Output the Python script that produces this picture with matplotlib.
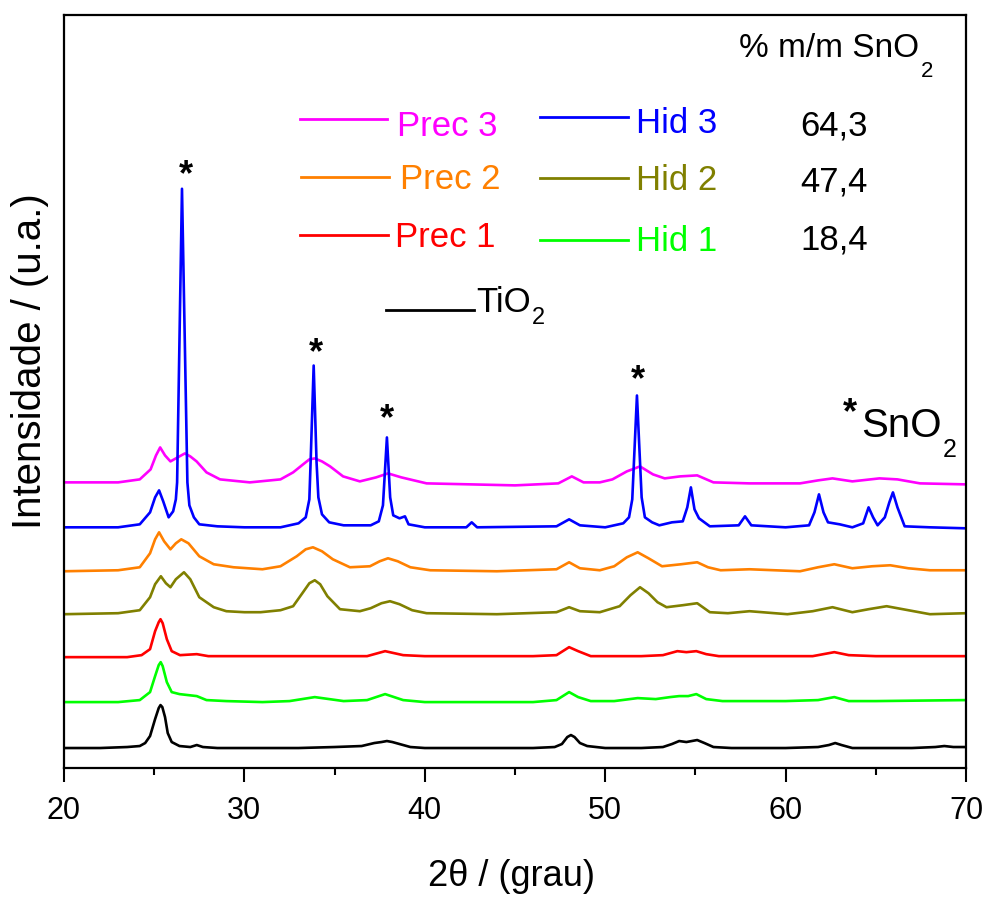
import matplotlib
matplotlib.use("Agg")
import matplotlib.pyplot as plt
from matplotlib.lines import Line2D

plt.rcParams['font.family'] = ['Liberation Sans', 'DejaVu Sans']

# ---------------- data (2theta in degrees, intensity in a.u., stacked) -------------
tio2_x = [20, 22, 23.5, 24.2, 24.5, 24.77, 25.05, 25.25, 25.35, 25.45, 25.6, 25.75, 25.97, 26.4, 27.0,
          27.36, 27.7, 28.5, 30, 33, 35, 36.5, 37.2, 37.6, 37.9, 38.2, 38.6, 39.2, 40, 43, 46, 47.2,
          47.6, 47.9, 48.1, 48.3, 48.6, 49.0, 50, 52, 53.2, 53.7, 54.1, 54.5, 54.8, 55.1, 55.5, 56.0,
          57, 60, 61.8, 62.4, 62.75, 63.1, 63.7, 65, 67, 68.3, 68.8, 69.3, 70]
tio2_y = [19, 19, 20, 21, 24, 31, 48, 59, 62, 60, 50, 34, 25, 21, 20,
          22, 20, 19, 19, 19, 20, 21, 24, 25, 26, 25, 23, 20, 19, 19, 19, 20,
          23, 30, 32, 30, 24, 21, 19, 19, 20, 23, 26, 25, 26, 27, 24, 20,
          19, 19, 20, 22, 24, 22, 19, 19, 19, 20, 21, 20, 20]

hid1_x = [20, 23, 24.2, 24.77, 25.05, 25.25, 25.36, 25.47, 25.7, 25.97, 26.4, 27.36, 27.9, 29, 31,
          32.5, 33.9, 35.5, 36.8, 37.8, 38.8, 40, 46, 47.3, 48.0, 48.5, 49.2, 50.5, 51.8, 52.8,
          53.6, 54.1, 54.6, 55.05, 55.6, 56.5, 60, 61.8, 62.7, 63.5, 65, 70]
hid1_y = [65, 65, 67, 75, 91, 102, 105, 101, 85, 75, 73, 71, 67, 66, 65,
          66, 70, 66, 67, 73, 67, 65, 65, 67, 75, 70, 66, 66, 69, 68,
          70, 71, 71, 73, 68, 66, 66, 67, 70, 66, 66, 67]

prec1_x = [20, 23.5, 24.3, 24.77, 25.05, 25.25, 25.35, 25.47, 25.7, 25.97, 26.43, 27.36, 28, 33,
           36.8, 37.8, 38.8, 40, 46, 47.3, 48.0, 48.5, 49.2, 52, 53.2, 54.0, 54.5, 55.05, 55.6,
           56.3, 61.5, 62.7, 63.5, 65, 70]
prec1_y = [110, 110, 112, 118, 136, 145, 148, 144, 128, 116, 112, 113, 111, 111,
           111, 116, 112, 111, 111, 112, 120, 116, 111, 111, 112, 116, 115, 116, 113,
           111, 111, 115, 112, 111, 111]

hid2_x = [20, 23, 24.2, 24.77, 25.05, 25.37, 25.65, 25.9, 26.2, 26.65, 27.0, 27.5, 28.3, 29.0, 30,
          30.9, 32.0, 32.7, 33.25, 33.6, 33.9, 34.2, 34.6, 35.3, 36.4, 37.0, 37.6, 38.07, 38.6,
          39.3, 40.1, 44, 47.3, 48.0, 48.6, 49.7, 50.8, 51.4, 51.93, 52.4, 52.9, 53.4, 54.3,
          55.1, 55.8, 56.8, 58.0, 60.1, 61.5, 62.6, 63.7, 64.6, 65.6, 66.5, 68.0, 70]
hid2_y = [153, 154, 157, 170, 183, 191, 184, 180, 188, 195, 188, 170, 160, 156, 155,
          155, 157, 161, 175, 184, 187, 183, 171, 158, 156, 159, 164, 166, 163,
          157, 154, 153, 155, 160, 156, 155, 161, 172, 180, 174, 165, 160, 162,
          164, 155, 154, 156, 153, 156, 160, 155, 158, 161, 158, 153, 154]

prec2_x = [20, 23, 24.2, 24.77, 25.05, 25.27, 25.55, 25.9, 26.2, 26.5, 26.9, 27.5, 28.3, 29.4, 31,
           32.0, 32.9, 33.4, 33.8, 34.3, 34.9, 35.85, 36.96, 37.5, 37.96, 38.5, 39.2, 40.3, 44,
           47.3, 48.0, 48.6, 49.7, 50.5, 51.2, 51.8, 52.4, 53.15, 54.2, 55.1, 55.7, 56.4, 58.0,
           60.8, 61.8, 62.7, 63.7, 64.8, 65.8, 66.8, 68, 70]
prec2_y = [196, 197, 200, 214, 228, 235, 226, 218, 224, 228, 224, 211, 203, 200, 198,
           201, 211, 218, 220, 216, 208, 200, 201, 206, 209, 206, 200, 197, 196,
           198, 205, 199, 197, 201, 210, 215, 209, 201, 203, 205, 200, 197, 198,
           196, 200, 203, 199, 201, 202, 199, 197, 197]

hid3_x = [20, 23, 24.2, 24.77, 25.05, 25.27, 25.5, 25.8, 26.05, 26.2, 26.27, 26.54, 26.84, 26.95,
          27.2, 27.5, 28.5, 30, 32, 33.0, 33.4, 33.6, 33.67, 33.84, 34.0, 34.1, 34.3, 34.7, 35.5,
          37.0, 37.45, 37.68, 37.9, 38.08, 38.25, 38.6, 38.9, 39.1, 40, 42.3, 42.6, 42.9, 47.3,
          48.0, 48.6, 50, 51.0, 51.32, 51.5, 51.76, 52.02, 52.2, 52.6, 53.0, 53.7, 54.3, 54.55,
          54.75, 54.95, 55.2, 55.8, 57.4, 57.75, 58.1, 60, 61.3, 61.6, 61.85, 62.1, 62.35, 63.0,
          63.7, 64.3, 64.6, 64.85, 65.1, 65.5, 65.75, 65.95, 66.2, 66.6, 68, 70]
hid3_y = [240, 240, 243, 255, 270, 277, 266, 250, 256, 268, 285, 579, 285, 262,
          250, 243, 241, 240, 240, 244, 250, 268, 305, 402, 305, 270, 253, 245, 242,
          242, 246, 262, 330, 270, 252, 249, 251, 243, 240, 240, 245, 240, 241,
          248, 242, 240, 244, 250, 268, 372, 270, 250, 245, 242, 245, 246, 260,
          280, 258, 249, 241, 242, 251, 242, 240, 242, 255, 273, 255, 245, 243,
          240, 244, 260, 250, 242, 250, 265, 275, 260, 241, 240, 239]

prec3_x = [20, 23, 24.2, 24.8, 25.1, 25.33, 25.6, 25.9, 26.3, 26.7, 27.0, 27.35, 27.9, 28.65, 30.3,
           32.0, 32.7, 33.25, 33.6, 33.9, 34.3, 34.75, 35.47, 36.4, 37.3, 37.96, 38.7, 40.1, 45,
           47.4, 48.15, 48.8, 49.7, 50.4, 51.2, 51.93, 52.65, 53.3, 54.15, 55.1, 56.0, 58, 60.8,
           61.8, 62.6, 63.7, 65.2, 66.2, 67.45, 70]
prec3_y = [285, 285, 288, 298, 312, 320, 312, 306, 310, 314, 311, 306, 295, 288, 285,
           288, 295, 303, 308, 309, 306, 301, 291, 286, 290, 294, 290, 284, 282,
           284, 291, 285, 285, 288, 296, 301, 293, 289, 291, 292, 285, 284, 284,
           287, 289, 286, 289, 288, 284, 283]

series_names = ['Prec 3', 'Hid 3', 'Prec 2', 'Hid 2', 'Prec 1', 'Hid 1', 'TiO']
series_colors = ['#FF00FF', '#0000FF', '#FF8000', '#808000', '#FF0000', '#00FF00', '#000000']
series_x = [prec3_x, hid3_x, prec2_x, hid2_x, prec1_x, hid1_x, tio2_x]
series_y = [prec3_y, hid3_y, prec2_y, hid2_y, prec1_y, hid1_y, tio2_y]

sno2_pct = ['64,3', '47,4', '18,4']
xticks = [20, 30, 40, 50, 60, 70]

# ---------------- figure ----------------
W, H = 986, 898
fig = plt.figure(figsize=(W / 100, H / 100), dpi=100)
ax = fig.add_axes([64 / W, 1 - 768 / H, 902 / W, 753 / H])

def P(px, py):
    return (px / W, 1 - py / H)

for xs, ys, c in zip(series_x, series_y, series_colors):
    ax.plot(xs, ys, color=c, lw=1.9, solid_joinstyle='round')

ax.set_xlim(20, 70)
ax.set_ylim(-1, 753)
ax.set_yticks([])
ax.set_xticks(xticks)
ax.set_xticks([25, 35, 45, 55, 65], minor=True)
ax.tick_params(axis='x', which='major', direction='out', length=10, width=1.5,
               labelsize=22, pad=10)
ax.tick_params(axis='x', which='minor', direction='out', length=5, width=1.5)
for s in ax.spines.values():
    s.set_linewidth(1.6)

ax.set_xlabel('2θ / (grau)', fontsize=26)
ax.xaxis.set_label_coords((512 - 64) / 902, (768 - 877) / 753)
ax.xaxis.label.set_va('center')
ax.set_ylabel('Intensidade / (u.a.)', fontsize=29)
ax.yaxis.set_label_coords((30 - 64) / 902, (768 - 361) / 753)
ax.yaxis.label.set_va('center')

fig.canvas.draw()
renderer = fig.canvas.get_renderer()

def sub_text(px, py_base, main, sub, fs, sub_fs, sub_base_py, color='black'):
    t = fig.text(*P(px, py_base), main, fontsize=fs, color=color, ha='left', va='baseline')
    bb = t.get_window_extent(renderer=renderer)
    x_end = bb.x1  # display pixels
    fig.text(x_end / W + 1.5 / W, 1 - sub_base_py / H, sub, fontsize=sub_fs, color=color,
             ha='left', va='baseline')

# stars above SnO2 peaks
star_py = [165, 343, 409, 370]
star_px = [186, 316, 387, 638]
for px, py in zip(star_px, star_py):
    fig.text(*P(px, py + 20), '*', fontsize=26, fontweight='bold', ha='center', va='baseline')

# legend-like labels
def leg_line(x0, x1, py_line, color):
    fig.add_artist(Line2D([x0 / W, x1 / W], [1 - py_line / H, 1 - py_line / H],
                          color=color, lw=2, transform=fig.transFigure))

def leg(x0, x1, py_line, color, label, tx, ty, fs=25):
    leg_line(x0, x1, py_line, color)
    fig.text(*P(tx, ty), label, color=color, fontsize=fs, ha='left', va='baseline')

leg(300, 387, 119, series_colors[0], series_names[0], 397, 136)
leg(301, 389, 177, series_colors[2], series_names[2], 400, 189)
leg(300, 388, 235, series_colors[4], series_names[4], 395, 247)
leg(540, 628, 117, series_colors[1], series_names[1], 636, 133)
leg(540, 628, 178, series_colors[3], series_names[3], 636, 190)
leg(540, 628, 240, series_colors[5], series_names[5], 636, 251)
leg_line(386, 474, 310, series_colors[6])
sub_text(476, 312, series_names[6], '2', 25, 17, 324)

for lab, ty in zip(sno2_pct, [135, 191, 250]):
    fig.text(*P(800, ty), lab, fontsize=25, ha='left', va='baseline')

sub_text(739, 57, '% m/m SnO', '2', 24, 16, 77)
fig.text(*P(850, 423), '*', fontsize=26, fontweight='bold', ha='center', va='baseline')
sub_text(861, 437, 'SnO', '2', 29, 18, 457)

fig.savefig('out.png', dpi=100)
